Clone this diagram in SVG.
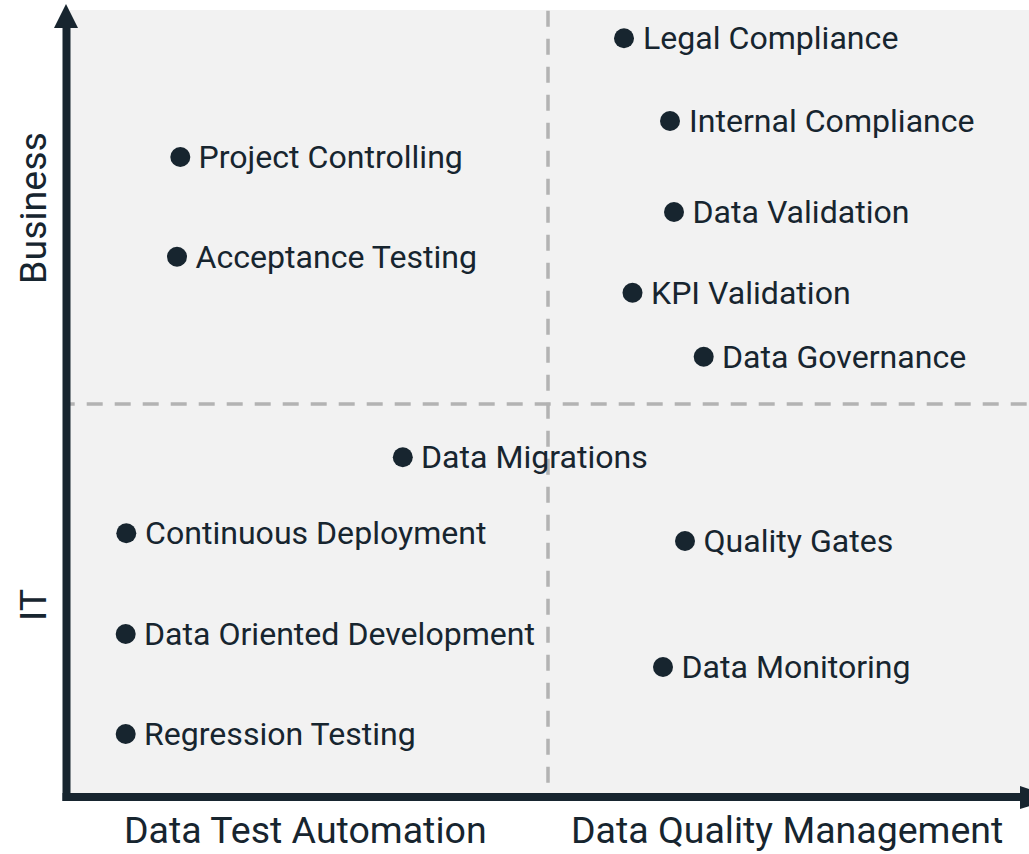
<svg xmlns="http://www.w3.org/2000/svg" width="1029" height="854" viewBox="0 0 1029 854">
<style>
.lbl{font-family:Roboto,"Liberation Sans",sans-serif;font-size:32.1px;fill:#17252f}
.ax{font-family:Roboto,"Liberation Sans",sans-serif;font-size:37.5px;fill:#17252f}
.dot{fill:#17252f}
.dash{stroke:#b3b3b3;stroke-width:3.5;stroke-dasharray:16 12;fill:none}
.axis{stroke:#17252f;stroke-width:8;fill:none}
.head{fill:#17252f}
</style>
<rect x="70" y="10" width="959" height="783" fill="#f2f2f2"/>
<g id="grid">
<line class="dash" x1="70" y1="404" x2="1029" y2="404" stroke-dashoffset="11.3"/>
<line class="dash" x1="548" y1="10.7" x2="548" y2="793"/>
</g>
<g id="axes">
<line class="axis" x1="66.5" y1="26" x2="66.5" y2="801"/>
<line class="axis" x1="62.5" y1="797" x2="1022" y2="797"/>
<polygon class="head" points="54,28 78,28 66,4"/>
<polygon class="head" points="1020,786 1020,809 1056,797.5"/>
</g>
<g id="axis-labels">
<text class="ax" x="124" y="843">Data Test Automation</text>
<text class="ax" x="571" y="843">Data Quality Management</text>
<text class="ax" transform="translate(46,208) rotate(-90)" text-anchor="middle">Business</text>
<text class="ax" transform="translate(46,605) rotate(-90)" text-anchor="middle">IT</text>
</g>
<g id="legal-compliance"><circle class="dot" cx="624" cy="38.3" r="10"/><text class="lbl" x="643" y="49.3">Legal Compliance</text></g>
<g id="internal-compliance"><circle class="dot" cx="670" cy="121" r="10"/><text class="lbl" x="689" y="132">Internal Compliance</text></g>
<g id="data-validation"><circle class="dot" cx="674" cy="212" r="10"/><text class="lbl" x="692.5" y="223">Data Validation</text></g>
<g id="kpi-validation"><circle class="dot" cx="632.5" cy="292.7" r="10"/><text class="lbl" x="651" y="303.7">KPI Validation</text></g>
<g id="data-governance"><circle class="dot" cx="703.7" cy="356.7" r="10"/><text class="lbl" x="722" y="367.7">Data Governance</text></g>
<g id="project-controlling"><circle class="dot" cx="180.3" cy="157" r="10"/><text class="lbl" x="198.5" y="168">Project Controlling</text></g>
<g id="acceptance-testing"><circle class="dot" cx="177" cy="256.7" r="10"/><text class="lbl" x="195.5" y="267.7">Acceptance Testing</text></g>
<g id="data-migrations"><circle class="dot" cx="402.8" cy="457.3" r="10"/><text class="lbl" x="421" y="468.3">Data Migrations</text></g>
<g id="continuous-deployment"><circle class="dot" cx="126.3" cy="533.3" r="10"/><text class="lbl" x="145" y="544.3">Continuous Deployment</text></g>
<g id="data-oriented-development"><circle class="dot" cx="125.7" cy="634" r="10"/><text class="lbl" x="144" y="645">Data Oriented Development</text></g>
<g id="regression-testing"><circle class="dot" cx="125.7" cy="734" r="10"/><text class="lbl" x="144" y="745">Regression Testing</text></g>
<g id="quality-gates"><circle class="dot" cx="685" cy="541" r="10"/><text class="lbl" x="703.5" y="552">Quality Gates</text></g>
<g id="data-monitoring"><circle class="dot" cx="663" cy="667" r="10"/><text class="lbl" x="681.5" y="678">Data Monitoring</text></g>
</svg>
